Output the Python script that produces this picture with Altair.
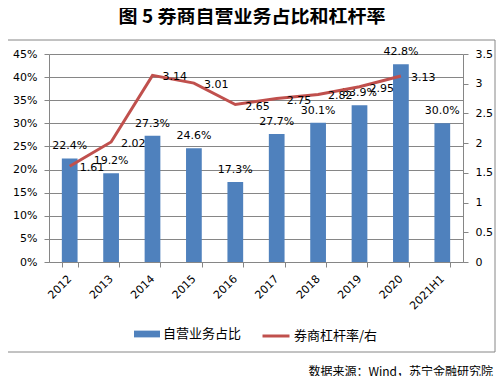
import altair as alt
import pandas as pd

years = ["2012", "2013", "2014", "2015", "2016", "2017", "2018", "2019", "2020", "2021H1"]
share = [22.4, 19.2, 27.3, 24.6, 17.3, 27.7, 30.1, 33.9, 42.8, 30.0]
leverage = [1.61, 2.02, 3.14, 3.01, 2.65, 2.75, 2.82, 2.95, 3.13, None]
bar_name = "自营业务占比"
line_name = "券商杠杆率/右"
title_text = "图 5  券商自营业务占比和杠杆率"
source_text = "数据来源：Wind，苏宁金融研究院"
left_ticks = [0, 5, 10, 15, 20, 25, 30, 35, 40, 45]
right_ticks = [0, 0.5, 1, 1.5, 2, 2.5, 3, 3.5]

df = pd.DataFrame({"year": years, "share": share, "lev": leverage})

BLUE = "#4F81BD"
RED = "#C0504D"
GRID = "#868686"
NUM_FONT = "DejaVu Sans"
CJK = "Noto Sans CJK SC"

x = alt.X(
    "year:N", sort=years,
    scale=alt.Scale(paddingInner=0.62, paddingOuter=0.31),
    axis=alt.Axis(title=None, labelAngle=-45, labelAlign="right", labelBaseline="middle",
                  labelPadding=10, tickBand="extent", tickSize=5, tickColor=GRID,
                  domainColor=GRID, labelFont=NUM_FONT, labelFontSize=11, labelColor="#000"),
)

yl = alt.Y(
    "share:Q", scale=alt.Scale(domain=[0, 45], nice=False),
    axis=alt.Axis(title=None, values=left_ticks, labelExpr="datum.value + '%'", grid=True,
                  gridColor=GRID, domainColor=GRID, tickColor=GRID, tickSize=5, labelPadding=7,
                  labelFont=NUM_FONT, labelFontSize=11, labelColor="#000"),
)

yr = alt.Y(
    "lev:Q", scale=alt.Scale(domain=[0, 3.5], nice=False),
    axis=alt.Axis(title=None, orient="right", values=right_ticks, format=".1~f", grid=False,
                  domainColor=GRID, tickColor=GRID, tickSize=5, labelPadding=7,
                  labelFont=NUM_FONT, labelFontSize=11, labelColor="#000"),
)

base = alt.Chart(df)

bars = base.transform_calculate(series=f"'{bar_name}'").mark_bar(color=BLUE).encode(
    x=x, y=yl,
    fill=alt.Fill("series:N", scale=alt.Scale(domain=[bar_name], range=[BLUE]),
                  legend=alt.Legend(title=None, orient="none", legendX=85, legendY=267, padding=0,
                                    symbolType="M-1,-0.26L1,-0.26L1,0.26L-1,0.26Z", symbolSize=676,
                                    symbolStrokeWidth=0, labelFont=CJK, labelFontSize=13,
                                    labelColor="#000", labelOffset=3)),
)

bar_text = base.transform_calculate(lbl="format(datum.share, '.1f') + '%'").mark_text(
    dy=-12, fontSize=11, font=NUM_FONT, color="#000", baseline="middle"
).encode(x=x, y=yl, text="lbl:N")

line = base.transform_calculate(series2=f"'{line_name}'").mark_line(strokeWidth=3, color=RED).encode(
    x=x, y=yr,
    stroke=alt.Stroke("series2:N", scale=alt.Scale(domain=[line_name], range=[RED]),
                      legend=alt.Legend(title=None, orient="none", legendX=212, legendY=267, padding=0,
                                        symbolType="stroke", symbolSize=729, symbolStrokeWidth=3,
                                        labelFont=CJK, labelFontSize=13, labelColor="#000",
                                        labelOffset=3)),
)

line_text = base.transform_filter("isValid(datum.lev)").mark_text(
    align="left", dx=10, dy=2, fontSize=11, font=NUM_FONT, color="#000", baseline="middle"
).encode(x=x, y=yr, text=alt.Text("lev:Q", format=".2f"))

left = alt.layer(bars, bar_text)
right = alt.layer(line, line_text)

border = alt.Chart(pd.DataFrame({"a": [0]})).mark_rect(
    fillOpacity=0, stroke=GRID, strokeWidth=1
).encode(x=alt.value(-45), x2=alt.value(446), y=alt.value(-14), y2=alt.value(298))

title = alt.Chart(pd.DataFrame({"t": [title_text]})).mark_text(
    font=CJK, fontSize=19, fontWeight="bold", color="#000", align="center", baseline="middle"
).encode(x=alt.value(203), y=alt.value(-37), text="t:N")

source = alt.Chart(pd.DataFrame({"t": [source_text]})).mark_text(
    font=CJK, fontSize=12, color="#000", align="right", baseline="middle"
).encode(x=alt.value(444), y=alt.value(318), text="t:N")

chart = alt.layer(border, left, right, title, source).resolve_scale(y="independent").properties(
    width=414, height=208,
    autosize=alt.AutoSizeParams(type="none"),
    padding={"left": 41, "top": 46, "right": 33, "bottom": 114},
    background="white",
).configure_view(strokeWidth=0)

chart.save("out.html", embed_options={"renderer": "svg", "actions": False})
